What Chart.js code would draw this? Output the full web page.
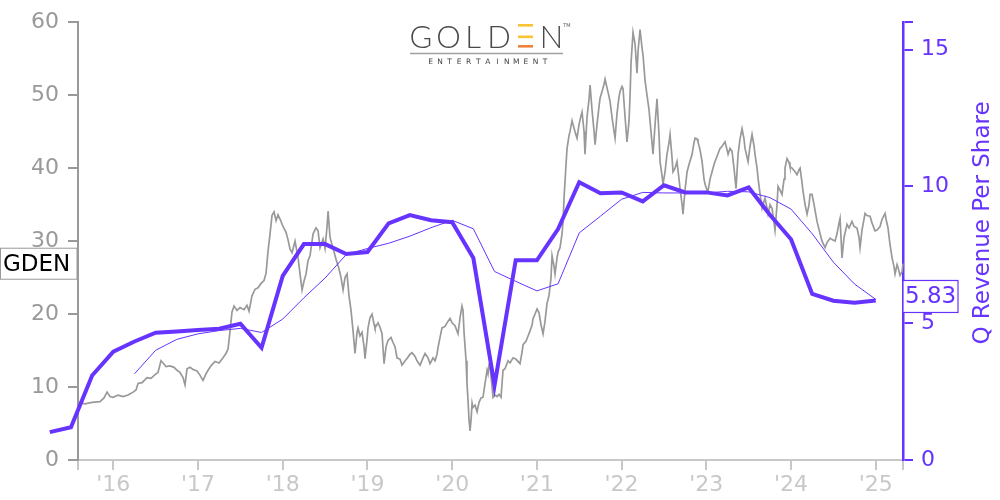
<!DOCTYPE html>
<html><head><meta charset="utf-8">
<script src="https://cdn.jsdelivr.net/npm/chart.js@4"></script>
<style>html,body{margin:0;padding:0;background:#fff;}canvas{display:block;}</style>
</head><body>
<canvas id="c" width="1000" height="500"></canvas>
<script>
// ---- data ----
const quarterEnds = [
  2015.25,2015.5,2015.75,2016.0,2016.25,2016.5,2016.75,2017.0,2017.25,2017.5,
  2017.75,2018.0,2018.25,2018.5,2018.75,2019.0,2019.25,2019.5,2019.75,2020.0,
  2020.25,2020.5,2020.75,2021.0,2021.25,2021.5,2021.75,2022.0,2022.25,2022.5,
  2022.75,2023.0,2023.25,2023.5,2023.75,2024.0,2024.25,2024.5,2024.75,2025.0];
const revenuePerShare = [
  1.02,1.2,3.09,3.96,4.33,4.65,4.7,4.75,4.8,4.98,
  4.1,6.73,7.89,7.89,7.53,7.6,8.65,8.95,8.76,8.69,
  7.38,2.73,7.3,7.3,8.44,10.15,9.75,9.78,9.45,10.04,
  9.78,9.78,9.67,9.96,8.96,8.07,6.07,5.82,5.75,5.83];
const revenueAvg4Q = [
  null,null,null,null,3.15,4.01,4.41,4.61,4.73,4.81,
  4.66,5.15,5.93,6.65,7.51,7.73,7.92,8.18,8.49,8.76,
  8.45,6.89,6.53,6.18,6.44,8.30,8.91,9.53,9.78,9.76,
  9.76,9.76,9.82,9.80,9.59,9.17,8.27,7.23,6.43,5.87];
const priceDates = [
  2015.583,2015.666,2015.749,2015.843,2015.890,2015.926,2015.961,2015.997,2016.056,2016.115,
  2016.174,2016.233,2016.268,2016.292,2016.339,2016.398,2016.445,2016.492,2016.527,2016.563,
  2016.587,2016.622,2016.669,2016.717,2016.752,2016.787,2016.823,2016.846,2016.870,2016.905,
  2016.941,2016.988,2017.024,2017.059,2017.094,2017.118,2017.153,2017.201,2017.248,2017.295,
  2017.330,2017.354,2017.378,2017.401,2017.425,2017.460,2017.496,2017.543,2017.578,2017.602,
  2017.637,2017.673,2017.708,2017.744,2017.779,2017.803,2017.826,2017.850,2017.873,2017.897,
  2017.921,2017.944,2017.968,2018.003,2018.039,2018.062,2018.086,2018.110,2018.145,2018.180,
  2018.204,2018.228,2018.251,2018.275,2018.298,2018.322,2018.358,2018.393,2018.417,2018.440,
  2018.476,2018.499,2018.523,2018.535,2018.558,2018.594,2018.629,2018.664,2018.688,2018.712,
  2018.735,2018.759,2018.782,2018.806,2018.830,2018.853,2018.877,2018.889,2018.912,2018.936,
  2018.960,2018.971,2018.995,2019.007,2019.030,2019.054,2019.078,2019.089,2019.125,2019.148,
  2019.172,2019.196,2019.219,2019.243,2019.278,2019.302,2019.326,2019.349,2019.385,2019.408,
  2019.444,2019.467,2019.503,2019.526,2019.562,2019.585,2019.621,2019.656,2019.680,2019.715,
  2019.739,2019.774,2019.798,2019.821,2019.833,2019.857,2019.880,2019.916,2019.939,2019.975,
  2019.998,2020.034,2020.069,2020.093,2020.116,2020.128,2020.140,2020.164,2020.175,2020.187,
  2020.199,2020.211,2020.223,2020.235,2020.246,2020.270,2020.294,2020.317,2020.341,2020.364,
  2020.388,2020.412,2020.423,2020.435,2020.447,2020.471,2020.482,2020.506,2020.530,2020.553,
  2020.577,2020.600,2020.624,2020.659,2020.683,2020.719,2020.754,2020.801,2020.825,2020.837,
  2020.872,2020.896,2020.919,2020.943,2020.955,2020.978,2021.002,2021.025,2021.049,2021.073,
  2021.096,2021.120,2021.143,2021.167,2021.179,2021.203,2021.214,2021.238,2021.250,2021.273,
  2021.297,2021.309,2021.321,2021.344,2021.356,2021.380,2021.391,2021.415,2021.427,2021.450,
  2021.474,2021.498,2021.521,2021.533,2021.557,2021.568,2021.592,2021.616,2021.628,2021.651,
  2021.675,2021.687,2021.710,2021.734,2021.746,2021.769,2021.793,2021.805,2021.828,2021.852,
  2021.864,2021.887,2021.911,2021.923,2021.946,2021.970,2021.982,2022.005,2022.017,2022.041,
  2022.064,2022.088,2022.100,2022.112,2022.135,2022.159,2022.182,2022.194,2022.218,2022.241,
  2022.253,2022.277,2022.300,2022.324,2022.336,2022.359,2022.371,2022.395,2022.418,2022.442,
  2022.454,2022.477,2022.489,2022.513,2022.536,2022.560,2022.572,2022.595,2022.607,2022.631,
  2022.654,2022.678,2022.690,2022.714,2022.725,2022.749,2022.773,2022.796,2022.832,2022.855,
  2022.867,2022.891,2022.902,2022.926,2022.950,2022.973,2022.985,2023.009,2023.020,2023.044,
  2023.068,2023.091,2023.103,2023.139,2023.162,2023.186,2023.221,2023.245,2023.257,2023.280,
  2023.304,2023.327,2023.351,2023.375,2023.398,2023.422,2023.445,2023.457,2023.481,2023.493,
  2023.516,2023.540,2023.564,2023.575,2023.599,2023.611,2023.634,2023.658,2023.682,2023.693,
  2023.717,2023.729,2023.752,2023.776,2023.800,2023.811,2023.835,2023.847,2023.870,2023.894,
  2023.918,2023.929,2023.953,2023.977,2023.988,2024.012,2024.048,2024.071,2024.095,2024.107,
  2024.130,2024.142,2024.166,2024.189,2024.213,2024.225,2024.248,2024.272,2024.307,2024.343,
  2024.366,2024.402,2024.425,2024.461,2024.484,2024.520,2024.543,2024.567,2024.579,2024.602,
  2024.626,2024.661,2024.685,2024.720,2024.744,2024.779,2024.803,2024.815,2024.838,2024.874,
  2024.897,2024.933,2024.956,2024.992,2025.016,2025.051,2025.075,2025.110,2025.122,2025.145,
  2025.169,2025.193,2025.216,2025.228,2025.252,2025.263,2025.287,2025.311,2025.322];
const priceValues = [
  7.9,7.7,7.9,8.0,8.5,9.3,8.7,8.6,8.9,8.7,
  8.9,9.3,9.6,10.5,10.6,11.3,11.2,11.7,12.0,13.6,
  13.3,12.8,12.9,12.7,12.3,12.0,11.3,10.3,12.5,12.7,
  12.4,12.2,11.6,10.9,11.8,12.3,12.9,13.5,13.3,14.0,
  14.6,15.2,17.7,20.3,21.1,20.5,20.9,20.6,21.2,20.4,
  22.5,23.4,23.6,24.2,24.6,25.6,28.6,31.0,33.5,34.0,
  32.8,33.6,33.0,32.0,31.2,30.2,28.9,28.4,30.0,27.8,
  25.5,23.3,24.5,25.5,27.3,28.0,31.0,31.8,31.4,29.1,
  30.3,29.0,32.0,34.1,30.5,29.0,27.5,26.2,25.0,23.3,
  25.0,25.5,22.5,20.5,17.7,14.6,17.5,18.1,17.0,17.5,
  15.5,13.9,16.5,18.1,19.5,20.0,18.6,18.1,18.8,18.2,
  17.3,13.2,15.5,16.4,16.8,16.1,15.5,14.0,13.8,13.0,
  13.6,13.9,14.5,14.7,14.2,13.6,13.0,14.0,14.6,14.0,
  13.2,14.0,13.6,14.5,15.4,16.8,18.1,18.3,18.8,19.4,
  18.8,18.4,17.3,19.5,21.1,20.5,17.5,13.6,10.5,8.2,
  5.5,4.0,5.5,7.8,7.2,7.5,6.6,7.9,8.5,8.6,
  10.5,12.3,11.8,13.0,12.8,10.0,8.6,8.9,8.7,9.0,
  8.6,12.3,12.5,13.6,13.3,14.0,13.8,13.2,14.8,15.8,
  16.3,17.0,17.7,18.5,19.4,20.0,20.7,20.2,18.5,17.3,
  19.0,21.5,22.5,25.0,28.0,26.5,25.5,27.7,28.5,29.1,
  31.0,32.7,36.0,40.5,42.7,44.5,45.0,46.5,46.0,45.0,
  44.1,46.0,47.2,47.7,45.0,41.9,47.0,49.5,51.4,48.0,
  45.0,43.2,46.0,48.5,49.6,50.5,51.5,52.2,51.0,49.8,
  49.1,47.0,45.0,44.1,47.5,49.8,50.5,51.2,50.9,47.0,
  43.6,46.5,50.0,54.5,58.6,57.0,53.0,56.0,59.0,56.5,
  55.5,52.0,50.0,48.0,46.4,43.5,41.9,46.0,49.5,44.5,
  40.9,39.0,37.8,39.5,41.9,43.5,44.6,41.5,39.5,40.0,
  40.9,38.5,37.2,35.0,33.7,37.0,39.5,40.5,41.9,43.5,
  44.1,44.0,43.6,42.5,40.9,38.5,37.8,37.0,36.8,38.5,
  39.5,40.5,40.9,42.0,42.7,43.0,43.6,42.5,41.9,42.7,
  42.3,40.0,37.2,41.9,44.0,45.4,44.0,42.7,41.5,40.9,
  43.0,44.6,43.0,41.9,40.0,38.6,36.5,34.5,35.5,35.9,
  34.5,33.7,35.0,34.5,32.5,31.5,35.0,37.5,37.0,36.4,
  38.5,40.0,41.3,40.8,40.2,40.0,39.5,39.1,39.8,40.0,
  38.0,36.8,35.0,33.7,35.0,36.4,36.4,35.0,32.7,31.0,
  30.0,29.1,29.8,30.4,30.2,30.0,31.0,32.5,33.1,27.7,
  30.5,32.3,31.8,32.7,32.0,31.8,30.5,29.1,31.5,33.8,
  33.5,33.4,32.5,31.4,31.5,32.0,33.0,33.8,33.0,31.8,
  29.5,27.7,26.5,25.5,26.8,26.4,25.3,25.8,26.9];
const yearTicks = [2016,2017,2018,2019,2020,2021,2022,2023,2024,2025];
const yearLabels = ["'16","'17","'18","'19","'20","'21","'22","'23","'24","'25"];
const priceTicks = [0,10,20,30,40,50,60];
const revenueTicks = [0,5,10,15];
const tickerLabel = 'GDEN';
const revenueTitle = 'Q Revenue Per Share';
const xRange = [2015.583, 2025.322];
const priceRange = [0, 60];
const revenueRange = [0, 16];

// ---- style ----
const PURPLE = '#6633ff';
const GREY = '#999999';
const LIGHT = '#c8c8c8';
const FONT = '"DejaVu Sans", sans-serif';

const overlay = {
  id: 'overlay',
  beforeDatasetsDraw(chart) {
    const ctx = chart.ctx;
    ctx.save();
    // logo
    ctx.fillStyle = '#48494b';
    ctx.font = '300 31px Lato, "Open Sans", sans-serif';
    ctx.textAlign = 'center';
    ctx.textBaseline = 'alphabetic';
    [['G',421],['O',448.5],['L',473],['D',499],['N',551.5]].forEach(([ch,x]) => ctx.fillText(ch, x, 47.5));
    ctx.fillStyle = '#f9c433'; ctx.fillRect(518, 24, 15, 2.6); ctx.fillRect(518, 35.5, 15, 2.6);
    ctx.fillStyle = '#f0823a'; ctx.fillRect(518, 45, 15, 2.6);
    ctx.fillStyle = '#58595b'; ctx.font = '5px ' + FONT; ctx.fillText('TM', 567, 27);
    ctx.strokeStyle = '#a0a0a0'; ctx.lineWidth = 1.5;
    ctx.beginPath(); ctx.moveTo(410, 53.5); ctx.lineTo(563, 53.5); ctx.stroke();
    ctx.fillStyle = '#444'; ctx.font = '7.5px ' + FONT; ctx.textBaseline = 'middle';
    'ENTERTAINMENT'.split('').forEach((ch, i) => ctx.fillText(ch, 430.5 + i * 9.54, 62));
    ctx.restore();
  },
  afterDraw(chart) {
    const ctx = chart.ctx;
    const yP = chart.scales.y, yR = chart.scales.y1;
    ctx.save();
    // right axis title (reads bottom to top)
    ctx.translate(983, 223); ctx.rotate(-Math.PI / 2);
    ctx.fillStyle = PURPLE; ctx.font = '23px ' + FONT;
    ctx.textAlign = 'center'; ctx.textBaseline = 'middle';
    ctx.fillText(revenueTitle, 0, 0);
    ctx.restore();
    // ticker box
    ctx.save();
    const py = yP.getPixelForValue(priceValues[priceValues.length - 1]);
    ctx.fillStyle = '#fff'; ctx.fillRect(0.5, py - 15.5, 76.5, 31);
    ctx.strokeStyle = GREY; ctx.lineWidth = 1; ctx.strokeRect(0.5, py - 15.5, 76.5, 31);
    ctx.fillStyle = '#000'; ctx.font = '23px ' + FONT; ctx.textAlign = 'left'; ctx.textBaseline = 'middle';
    ctx.fillText(tickerLabel, 3, py + 1);
    // last revenue box
    const lastRev = revenuePerShare[revenuePerShare.length - 1];
    const ry = yR.getPixelForValue(lastRev) - 4;
    ctx.fillStyle = '#fff'; ctx.fillRect(903, ry - 16, 55, 32);
    ctx.strokeStyle = PURPLE; ctx.lineWidth = 1.2; ctx.strokeRect(903, ry - 16, 55, 32);
    ctx.fillStyle = PURPLE; ctx.font = '23px ' + FONT;
    ctx.fillText(lastRev.toFixed(2), 905, ry + 1);
    ctx.restore();
  }
};

new Chart(document.getElementById('c'), {
  type: 'line',
  data: {
    datasets: [
      {
        label: 'Q Revenue Per Share',
        data: quarterEnds.map((d, i) => ({x: d, y: revenuePerShare[i]})),
        yAxisID: 'y1', borderColor: PURPLE, borderWidth: 4, pointRadius: 0,
        clip: false, borderJoinStyle: 'miter'
      },
      {
        label: '4Q average',
        data: quarterEnds.map((d, i) => ({x: d, y: revenueAvg4Q[i]})),
        yAxisID: 'y1', borderColor: PURPLE, borderWidth: 1, pointRadius: 0
      },
      {
        label: 'GDEN',
        data: priceDates.map((d, i) => ({x: d, y: priceValues[i]})),
        yAxisID: 'y', borderColor: GREY, borderWidth: 1.7, pointRadius: 0
      }
    ]
  },
  options: {
    responsive: false, animation: false, devicePixelRatio: 1,
    layout: {padding: {top: 20, left: 0, right: 0, bottom: 0}},
    plugins: {legend: {display: false}, tooltip: {enabled: false}},
    elements: {line: {tension: 0}, point: {radius: 0}},
    scales: {
      x: {
        type: 'linear', position: 'bottom', bounds: 'data',
        afterDataLimits: s => { s.min = xRange[0]; s.max = xRange[1]; },
        afterBuildTicks: s => { s.ticks = [xRange[0], ...yearTicks, xRange[1]].map(v => ({value: v})); },
        afterFit: s => { s.height = 40; },
        grid: {display: true, drawOnChartArea: false, drawTicks: true, tickLength: 10, color: LIGHT, lineWidth: 2},
        border: {display: true, color: LIGHT, width: 2},
        ticks: {autoSkip: false, maxRotation: 0, padding: 2, color: LIGHT, font: {family: FONT, size: 22},
          callback: v => { const i = yearTicks.indexOf(v); return i < 0 ? '' : yearLabels[i]; }}
      },
      y: {
        type: 'linear', position: 'left', min: priceRange[0], max: priceRange[1],
        afterBuildTicks: s => { s.ticks = priceTicks.map(v => ({value: v})); },
        afterFit: s => { s.width = 78; },
        grid: {display: true, drawOnChartArea: false, drawTicks: true, tickLength: 10, color: GREY, lineWidth: 2},
        border: {display: true, color: GREY, width: 2},
        ticks: {padding: 9, color: GREY, font: {family: FONT, size: 22}}
      },
      y1: {
        type: 'linear', position: 'right', min: revenueRange[0], max: revenueRange[1],
        afterBuildTicks: s => { s.ticks = [...revenueTicks, revenueRange[1]].map(v => ({value: v})); },
        afterFit: s => { s.width = 97; },
        grid: {display: true, drawOnChartArea: false, drawTicks: true, tickLength: 10, color: PURPLE, lineWidth: 2},
        border: {display: true, color: PURPLE, width: 2.5},
        ticks: {padding: 8, color: PURPLE, font: {family: FONT, size: 22},
          callback: v => revenueTicks.includes(v) ? String(v) : ''}
      }
    }
  },
  plugins: [overlay]
});
</script>
</body></html>
